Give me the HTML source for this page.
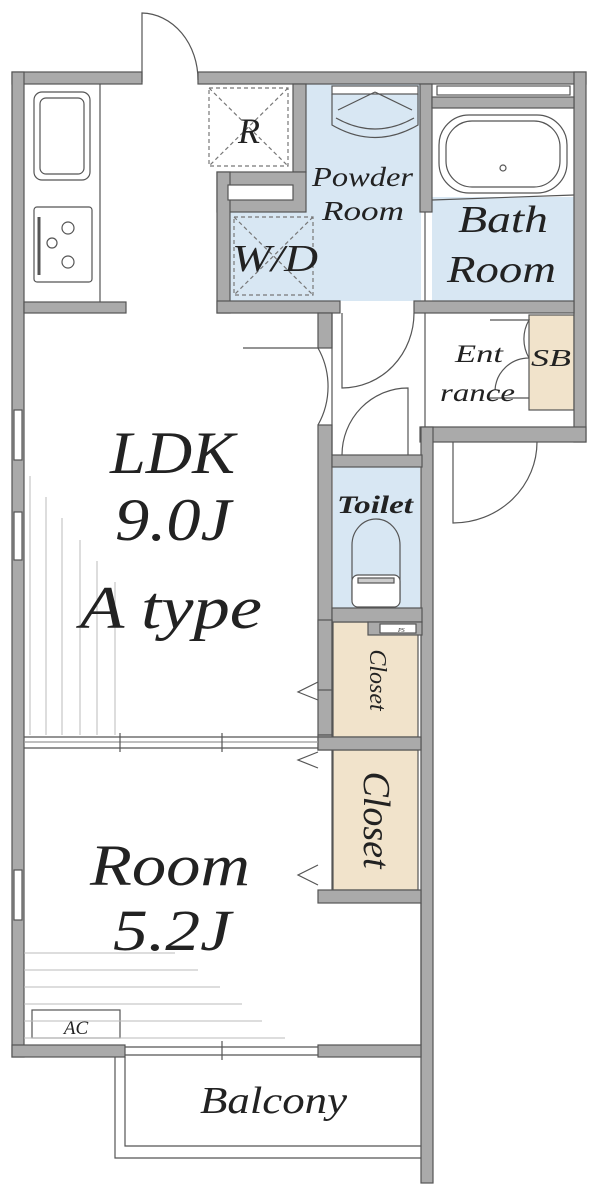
<!DOCTYPE html>
<html><head><meta charset="utf-8"><style>
html,body{margin:0;padding:0;background:#fff}
svg{display:block}
text{font-family:"Liberation Serif",serif;font-style:italic;fill:#222}
</style></head><body>
<svg width="600" height="1191" viewBox="0 0 600 1191" xmlns="http://www.w3.org/2000/svg">
<g stroke="#555" stroke-width="1.2">
<rect x="306" y="84" width="115" height="217" fill="#d8e7f3" stroke="none"/>
<rect x="230" y="212" width="80" height="89" fill="#d8e7f3" stroke="none"/>
<rect x="432" y="197" width="142" height="104" fill="#d8e7f3" stroke="none"/>
<rect x="333" y="467" width="87" height="141" fill="#d8e7f3" stroke="none"/>
<rect x="333" y="622" width="85" height="115" fill="#f1e3cb"/>
<rect x="333" y="750" width="85" height="140" fill="#f1e3cb"/>
<rect x="529" y="315" width="45" height="95" fill="#f1e3cb"/>

<g fill="#aaa">
<rect x="12" y="72" width="130" height="12"/>
<rect x="198" y="72" width="388" height="12"/>
<rect x="12" y="72" width="12" height="985"/>
<rect x="574" y="72" width="12" height="370"/>
<rect x="420" y="427" width="166" height="15"/>
<rect x="421" y="427" width="12" height="756"/>
<rect x="12" y="1045" width="113" height="12"/>
<rect x="318" y="1045" width="103" height="12"/>
<rect x="24" y="302" width="102" height="11"/>
<rect x="293" y="84" width="13" height="88"/>
<rect x="217" y="172" width="89" height="40"/>
<rect x="217" y="172" width="13" height="141"/>
<rect x="217" y="301" width="123" height="12"/>
<rect x="414" y="301" width="160" height="12"/>
<rect x="420" y="84" width="12" height="128"/>
<rect x="432" y="97" width="142" height="11"/>
<rect x="318" y="313" width="14" height="35"/>
<rect x="318" y="425" width="14" height="310"/>
<rect x="332" y="455" width="90" height="12"/>
<rect x="332" y="608" width="90" height="14"/>
<rect x="368" y="622" width="54" height="13"/>
<rect x="318" y="735" width="14" height="15"/>
<rect x="318" y="737" width="103" height="13"/>
<rect x="318" y="890" width="103" height="13"/>
<rect x="318" y="620" width="14" height="70"/>
</g>
<rect x="228" y="185" width="65" height="15" fill="#fff"/>
<rect x="437" y="86" width="133" height="9" fill="#fff"/>
<rect x="380" y="624" width="36" height="9" fill="#fff"/>
<text x="398" y="632" font-size="6" stroke="none">PS</text>
<rect x="332" y="86" width="86" height="8" fill="#fff"/>

<line x1="24" y1="737" x2="318" y2="737"/>
<line x1="24" y1="748" x2="318" y2="748"/>
<line x1="24" y1="742" x2="318" y2="742" stroke="#999"/>
<line x1="120" y1="733" x2="120" y2="752"/>
<line x1="222" y1="733" x2="222" y2="752"/>
<line x1="125" y1="1047" x2="318" y2="1047"/>
<line x1="125" y1="1055" x2="318" y2="1055"/>
<line x1="222" y1="1041" x2="222" y2="1060"/>
<g fill="#fff"><rect x="14" y="410" width="8" height="50"/><rect x="14" y="512" width="8" height="48"/><rect x="14" y="870" width="8" height="50"/></g>
<line x1="421" y1="903" x2="421" y2="1045"/>
<line x1="332" y1="620" x2="332" y2="735" />
<line x1="332" y1="750" x2="332" y2="890"/>
<g fill="none">
<polyline points="115,1057 115,1158 421,1158"/>
<polyline points="125,1057 125,1146 421,1146"/>
<line x1="332" y1="313" x2="332" y2="455"/>
<line x1="425" y1="313" x2="425" y2="427"/>
<path d="M142,82 L142,13 A57,67 0 0 1 198,80"/>
<path d="M243,348 L318,348 A75,77 0 0 1 318,425" />
<path d="M342,313 L342,388 A72,75 0 0 0 414,313"/>
<path d="M408,455 L408,388 A66,67 0 0 0 342,455"/>
<path d="M453,442 L453,523 A84,81 0 0 0 537,442"/>
<path d="M490,320 L529,320 A38,38 0 0 0 529,358 M529,358 A34,34 0 0 0 495,390 M490,398 L529,398"/>
<polyline points="318,682 298,692 318,700"/>
<polyline points="318,752 298,760 318,768"/>
<polyline points="318,865 298,875 318,885"/>
<line x1="100" y1="84" x2="100" y2="302"/>
<rect x="34" y="92" width="56" height="88" rx="8"/>
<rect x="40" y="98" width="44" height="76" rx="6"/>
<rect x="34" y="207" width="58" height="75" rx="3"/>
<line x1="39" y1="217" x2="39" y2="275" stroke-width="3"/>
<circle cx="68" cy="228" r="6"/><circle cx="52" cy="243" r="5"/><circle cx="68" cy="262" r="6"/>
<g stroke-dasharray="4,3" stroke="#777">
<rect x="209" y="88" width="79" height="78"/>
<line x1="209" y1="88" x2="288" y2="166"/><line x1="288" y1="88" x2="209" y2="166"/>
<rect x="234" y="217" width="79" height="78"/>
<line x1="234" y1="217" x2="313" y2="295"/><line x1="313" y1="217" x2="234" y2="295"/>
</g>
<path d="M332,94 L332,125 Q375,150 418,125 L418,94"/>
<path d="M336,118 Q375,140 414,118"/>
<path d="M375,92 L338,110 M375,92 L412,110"/>
<rect x="439" y="115" width="128" height="78" rx="30"/>
<rect x="446" y="121" width="114" height="66" rx="26"/>
<circle cx="503" cy="168" r="3"/>
<line x1="432" y1="200" x2="574" y2="195"/>
<line x1="425" y1="212" x2="425" y2="301"/>
<path d="M352,600 L352,545 A24,26 0 0 1 400,545 L400,600"/>
<rect x="352" y="575" width="48" height="32" rx="6" fill="#fff"/>
<rect x="358" y="578" width="36" height="5" fill="#ccc"/>
<rect x="32" y="1010" width="88" height="28"/>
</g>
<g stroke="#bbb" stroke-width="1">
<line x1="30" y1="476" x2="30" y2="735"/><line x1="46" y1="497" x2="46" y2="735"/>
<line x1="62" y1="518" x2="62" y2="735"/><line x1="80" y1="540" x2="80" y2="735"/>
<line x1="97" y1="561" x2="97" y2="735"/><line x1="115" y1="582" x2="115" y2="735"/>
<line x1="24" y1="953" x2="175" y2="953"/><line x1="24" y1="970" x2="198" y2="970"/>
<line x1="24" y1="987" x2="220" y2="987"/><line x1="24" y1="1004" x2="242" y2="1004"/>
<line x1="24" y1="1021" x2="262" y2="1021"/><line x1="24" y1="1038" x2="285" y2="1038"/>
</g>
</g>
<text x="110" y="473" font-size="60" textLength="125" lengthAdjust="spacingAndGlyphs">LDK</text>
<text x="115" y="540" font-size="60" textLength="116" lengthAdjust="spacingAndGlyphs">9.0J</text>
<text x="80" y="628" font-size="60" textLength="182" lengthAdjust="spacingAndGlyphs">A  type</text>
<text x="90" y="885" font-size="58" textLength="160" lengthAdjust="spacingAndGlyphs">Room</text>
<text x="113" y="950" font-size="58" textLength="118" lengthAdjust="spacingAndGlyphs">5.2J</text>
<text x="200" y="1113" font-size="38" textLength="147" lengthAdjust="spacingAndGlyphs">Balcony</text>
<text x="76" y="1034" font-size="19" text-anchor="middle">AC</text>
<text x="249" y="143" font-size="36" text-anchor="middle">R</text>
<text x="232" y="271" font-size="38" fill="#333" textLength="86" lengthAdjust="spacingAndGlyphs">W/D</text>
<text x="312" y="186" font-size="27" fill="#2a3a4a" textLength="101" lengthAdjust="spacingAndGlyphs">Powder</text>
<text x="322" y="220" font-size="27" fill="#2a3a4a" textLength="82" lengthAdjust="spacingAndGlyphs">Room</text>
<text x="458" y="232" font-size="38" fill="#1f2a38" textLength="90" lengthAdjust="spacingAndGlyphs">Bath</text>
<text x="447" y="282" font-size="38" fill="#1f2a38" textLength="109" lengthAdjust="spacingAndGlyphs">Room</text>
<text x="455" y="362" font-size="25" fill="#333" textLength="48" lengthAdjust="spacingAndGlyphs">Ent</text>
<text x="440" y="401" font-size="25" fill="#333" textLength="75" lengthAdjust="spacingAndGlyphs">rance</text>
<text x="531" y="366" font-size="24" fill="#333" textLength="40" lengthAdjust="spacingAndGlyphs">SB</text>
<text x="337" y="513" font-size="25" fill="#2a3a4a" font-weight="bold" textLength="76" lengthAdjust="spacingAndGlyphs">Toilet</text>
<text transform="translate(370,680) rotate(90)" font-size="24" text-anchor="middle" fill="#333">Closet</text>
<text transform="translate(364,820) rotate(90)" font-size="38" text-anchor="middle" fill="#333">Closet</text>
</svg>
</body></html>
